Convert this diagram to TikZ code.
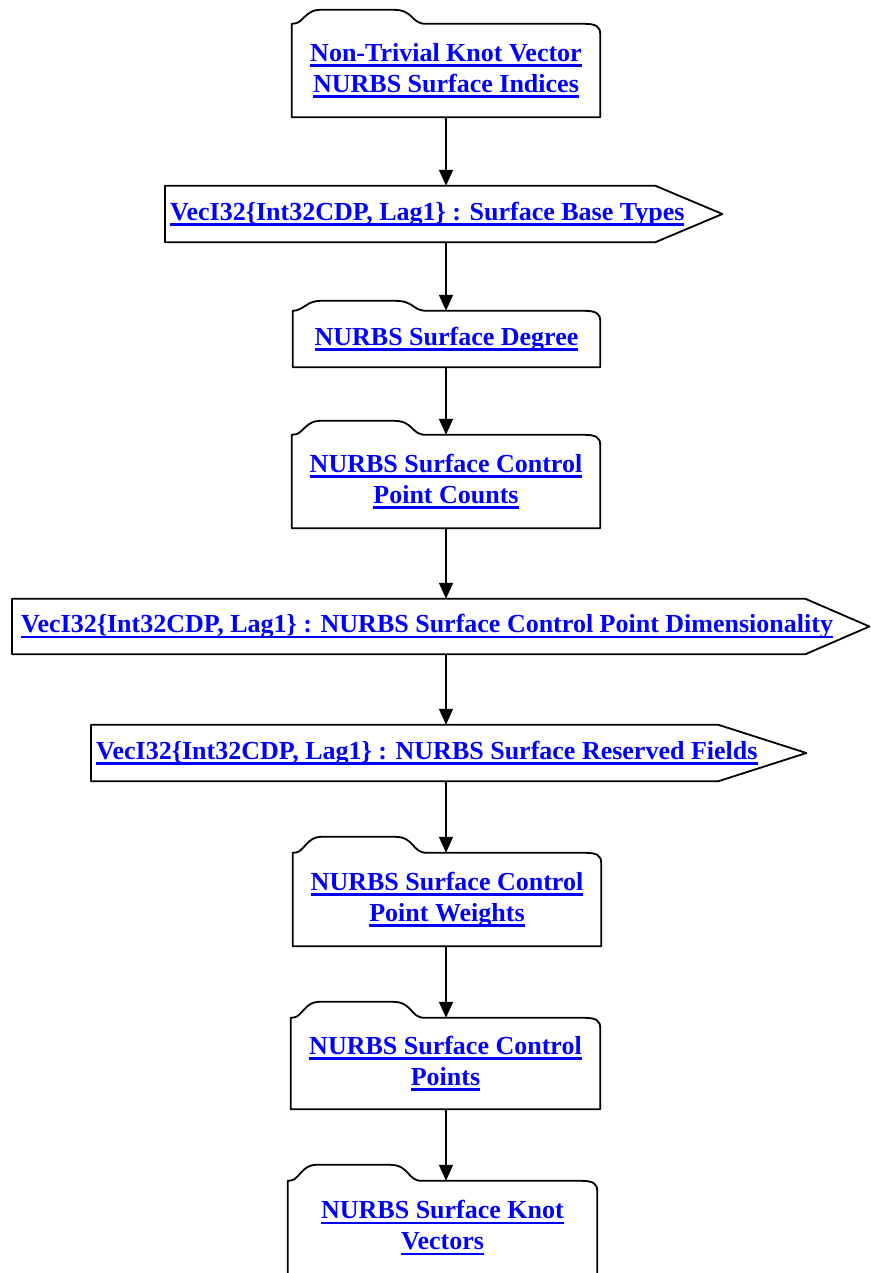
\documentclass[tikz,border=0pt]{standalone}
\usepackage{fontspec}
\setmainfont{Liberation Serif}
\usetikzlibrary{arrows.meta,calc}
\definecolor{linkblue}{RGB}{0,0,255}
\newsavebox\lkbox
\newcommand\lk[1]{\sbox\lkbox{#1}\rlap{\rule[-5.5pt]{\wd\lkbox}{2.5pt}}\usebox\lkbox}
\tikzset{
  shapeline/.style={draw=black,line width=1.8pt,line join=round},
  body/.style={draw=none,inner sep=0pt,font=\fontsize{26}{31}\selectfont\bfseries,text=linkblue,align=center},
  lbl/.style={inner sep=0pt,font=\fontsize{26}{31}\selectfont\bfseries,text=linkblue,anchor=west},
  arr/.style={line width=1.5pt,-{Triangle[length=16pt,width=14pt]}},
}
\newcommand\folderpath[2]{%
  \draw[shapeline] let \p1=(#1.south west), \p2=(#1.north east) in
   (\x1,\y1) -- (\x1,\y2) -- (\x1+4pt,\y2+0.5pt)
   .. controls (\x1+11pt,\y2+2pt) and (\x1+15pt,\y2+#2pt) .. (\x1+28pt,\y2+#2pt)
   -- (\x1+102pt,\y2+#2pt)
   .. controls (\x1+122pt,\y2+#2pt) and (\x1+119pt,\y2) .. (\x1+134pt,\y2)
   -- (\x2-16pt,\y2) .. controls (\x2-4pt,\y2) and (\x2,\y2-3pt) .. (\x2,\y2-10pt)
   -- (\x2,\y1) -- cycle;}
\newcommand\arrowpath[2]{%
  \draw[shapeline] let \p1=(#1.south west), \p2=(#1.north east) in
   (\x1,\y1) -- (\x1,\y2) -- (\x2,\y2) -- (\x2+#2pt,{(\y1+\y2)/2}) -- (\x2,\y1) -- cycle;}
\begin{document}
\begin{tikzpicture}[x=1pt,y=-1pt]
\useasboundingbox (0,0) rectangle (870,1273);
\fill[white] (0,0) rectangle (870,1273);
% folders
\node[body,minimum width=308,minimum height=93] (n1) at (446,70.5) {\lk{Non-Trivial Knot Vector}\\\lk{NURBS Surface Indices}};
\folderpath{n1}{14}
\node[body,minimum width=307,minimum height=56] (n3) at (446.5,339) {\lk{NURBS Surface Degree}};
\folderpath{n3}{10}
\node[body,minimum width=308,minimum height=93] (n4) at (446,481.5) {\lk{NURBS Surface Control}\\\lk{Point Counts}};
\folderpath{n4}{14}
\node[body,minimum width=308,minimum height=93] (n7) at (447,899.5) {\lk{NURBS Surface Control}\\\lk{Point Weights}};
\folderpath{n7}{16}
\node[body,minimum width=309,minimum height=91] (n8) at (445.5,1063.5) {\lk{NURBS Surface Control}\\\lk{Points}};
\folderpath{n8}{16}
\node[body,minimum width=309,minimum height=94] (n9) at (442.5,1228) {\lk{NURBS Surface Knot}\\\lk{Vectors}};
\folderpath{n9}{16}
% pentagons
\node[draw=none,inner sep=0pt,minimum width=490,minimum height=56,anchor=west] (n2) at (165,214) {};
\arrowpath{n2}{67}
\node[lbl] (t2) at ([xshift=5pt]n2.west) {\lk{VecI32\{Int32CDP, Lag1\} : Surface Base Types}};
\node[draw=none,inner sep=0pt,minimum width=793,minimum height=55,anchor=west] (n5) at (12,626.5) {};
\arrowpath{n5}{64}
\node[lbl] (t5) at ([xshift=9pt]n5.west) {\lk{VecI32\{Int32CDP, Lag1\} : NURBS Surface Control Point Dimensionality}};
\node[draw=none,inner sep=0pt,minimum width=627,minimum height=56,anchor=west] (n6) at (91,753) {};
\arrowpath{n6}{88}
\node[lbl] (t6) at ([xshift=5pt]n6.west) {\lk{VecI32\{Int32CDP, Lag1\} : NURBS Surface Reserved Fields}};
% arrows
\coordinate (ax) at (446,0);
\draw[arr] (n1.south -| ax) -- (n2.north -| ax);
\draw[arr] (n2.south -| ax) -- (n3.north -| ax);
\draw[arr] (n3.south -| ax) -- (n4.north -| ax);
\draw[arr] (n4.south -| ax) -- (n5.north -| ax);
\draw[arr] (n5.south -| ax) -- (n6.north -| ax);
\draw[arr] (n6.south -| ax) -- (n7.north -| ax);
\draw[arr] (n7.south -| ax) -- (n8.north -| ax);
\draw[arr] (n8.south -| ax) -- (n9.north -| ax);
\end{tikzpicture}
\end{document}
